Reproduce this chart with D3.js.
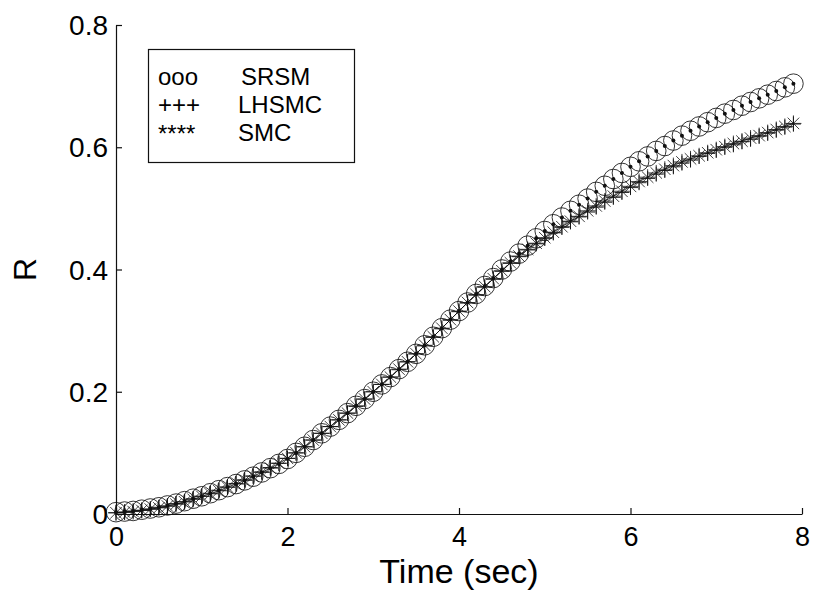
<!DOCTYPE html>
<html>
<head>
<meta charset="utf-8">
<script src="https://cdn.jsdelivr.net/npm/d3@7"></script>
<style>
  html, body { margin: 0; padding: 0; background: #fff; }
  svg { display: block; font-family: "Liberation Sans", Arial, Helvetica, sans-serif; }
</style>
</head>
<body>
<div id="chart"></div>
<script>
// sample times (sec)
const time = [
  0.0, 0.1, 0.2, 0.3, 0.4, 0.5, 0.6, 0.7, 0.8, 0.9,
  1.0, 1.1, 1.2, 1.3, 1.4, 1.5, 1.6, 1.7, 1.8, 1.9,
  2.0, 2.1, 2.2, 2.3, 2.4, 2.5, 2.6, 2.7, 2.8, 2.9,
  3.0, 3.1, 3.2, 3.3, 3.4, 3.5, 3.6, 3.7, 3.8, 3.9,
  4.0, 4.1, 4.2, 4.3, 4.4, 4.5, 4.6, 4.7, 4.8, 4.9,
  5.0, 5.1, 5.2, 5.3, 5.4, 5.5, 5.6, 5.7, 5.8, 5.9,
  6.0, 6.1, 6.2, 6.3, 6.4, 6.5, 6.6, 6.7, 6.8, 6.9,
  7.0, 7.1, 7.2, 7.3, 7.4, 7.5, 7.6, 7.7, 7.8, 7.9
];

const srsm = [
  0.003, 0.004, 0.005, 0.007, 0.009, 0.011, 0.014, 0.017, 0.021, 0.025,
  0.029, 0.034, 0.039, 0.044, 0.049, 0.055, 0.061, 0.068, 0.075, 0.082,
  0.090, 0.100, 0.110, 0.121, 0.132, 0.143, 0.154, 0.165, 0.177, 0.188,
  0.200, 0.212, 0.224, 0.237, 0.249, 0.262, 0.276, 0.290, 0.304, 0.318,
  0.332, 0.346, 0.360, 0.373, 0.386, 0.400, 0.413, 0.426, 0.439, 0.451,
  0.463, 0.474, 0.485, 0.496, 0.506, 0.516, 0.527, 0.537, 0.548, 0.558,
  0.568, 0.577, 0.585, 0.594, 0.602, 0.611, 0.619, 0.627, 0.634, 0.641,
  0.648, 0.655, 0.661, 0.668, 0.674, 0.680, 0.686, 0.692, 0.698, 0.704
];

const lhsmc = [
  0.002, 0.003, 0.005, 0.006, 0.008, 0.011, 0.013, 0.017, 0.020, 0.025,
  0.029, 0.034, 0.039, 0.044, 0.050, 0.056, 0.062, 0.069, 0.076, 0.083,
  0.091, 0.100, 0.110, 0.121, 0.132, 0.143, 0.154, 0.165, 0.176, 0.188,
  0.200, 0.212, 0.224, 0.236, 0.249, 0.262, 0.275, 0.289, 0.303, 0.317,
  0.331, 0.345, 0.358, 0.371, 0.384, 0.397, 0.410, 0.421, 0.432, 0.442,
  0.451, 0.460, 0.469, 0.478, 0.486, 0.494, 0.502, 0.510, 0.518, 0.526,
  0.534, 0.542, 0.549, 0.556, 0.562, 0.568, 0.574, 0.579, 0.585, 0.590,
  0.595, 0.600, 0.604, 0.609, 0.613, 0.618, 0.623, 0.628, 0.633, 0.638
];

const smc = [
  0.002, 0.003, 0.004, 0.006, 0.008, 0.010, 0.013, 0.016, 0.020, 0.024,
  0.029, 0.033, 0.038, 0.044, 0.049, 0.055, 0.062, 0.068, 0.075, 0.083,
  0.091, 0.100, 0.110, 0.121, 0.132, 0.143, 0.154, 0.165, 0.177, 0.188,
  0.200, 0.212, 0.224, 0.237, 0.249, 0.262, 0.276, 0.290, 0.304, 0.318,
  0.332, 0.346, 0.359, 0.372, 0.385, 0.398, 0.411, 0.422, 0.433, 0.443,
  0.452, 0.461, 0.470, 0.479, 0.487, 0.496, 0.504, 0.512, 0.520, 0.528,
  0.536, 0.544, 0.551, 0.558, 0.564, 0.570, 0.576, 0.581, 0.586, 0.591,
  0.596, 0.601, 0.606, 0.610, 0.615, 0.619, 0.624, 0.629, 0.634, 0.639
];

const xTicks = [0, 2, 4, 6, 8];
const yTicks = [0, 0.2, 0.4, 0.6, 0.8];
const legendRows = [
  { sym: "ooo", name: "SRSM" },
  { sym: "+++", name: "LHSMC" },
  { sym: "****", name: "SMC" }
];

const W = 815, H = 605;
const margin = { top: 25, right: 13, bottom: 91, left: 116 };
const w = W - margin.left - margin.right, h = H - margin.top - margin.bottom;
const INK = "#111";

const svg = d3.select("#chart").append("svg")
  .attr("width", W).attr("height", H).attr("viewBox", `0 0 ${W} ${H}`);
const g = svg.append("g").attr("transform", `translate(${margin.left},${margin.top})`);

const x = d3.scaleLinear().domain([0, 8]).range([0, w]);
const y = d3.scaleLinear().domain([0, 0.8]).range([h, 0]);

// axes: ticks point inward, only left + bottom spines
const xAxis = g.append("g").attr("transform", `translate(0,${h})`)
  .call(d3.axisBottom(x).tickValues(xTicks).tickSize(-6).tickSizeOuter(0).tickPadding(13)
    .tickFormat(d3.format("d")));
const yAxis = g.append("g")
  .call(d3.axisLeft(y).tickValues(yTicks).tickSize(-6).tickSizeOuter(0).tickPadding(8)
    .tickFormat(d => d === 0 ? "0" : d.toFixed(1)));
[xAxis, yAxis].forEach(a => {
  a.select(".domain").attr("stroke", INK).attr("stroke-width", 1.2);
  a.selectAll(".tick line").attr("stroke", INK).attr("stroke-width", 1.2);
  a.selectAll("text").attr("fill", "#000").style("font-size", "28px")
    .style("font-family", "\"Liberation Sans\", Arial, sans-serif");
});
xAxis.selectAll("text").style("font-size", "27px");
yAxis.selectAll("text").attr("dy", "0.34em");

svg.append("text")
  .attr("x", margin.left + w / 2).attr("y", 583)
  .attr("text-anchor", "middle").style("font-size", "34px").attr("fill", "#000")
  .text("Time (sec)");
svg.append("text")
  .attr("transform", `translate(36,${margin.top + y(0.4)}) rotate(-90)`)
  .attr("text-anchor", "middle").style("font-size", "32px").attr("fill", "#000")
  .text("R");

const rows = (vals) => time.map((t, i) => ({ t, r: vals[i] }));

// SRSM: open circles with a centre dot
const gS = g.append("g");
gS.selectAll("circle.o").data(rows(srsm)).join("circle").attr("class", "o")
  .attr("cx", d => x(d.t)).attr("cy", d => y(d.r)).attr("r", 9.8)
  .attr("fill", "none").attr("stroke", INK).attr("stroke-width", 0.85);
gS.selectAll("circle.dot").data(rows(srsm)).join("circle").attr("class", "dot")
  .attr("cx", d => x(d.t)).attr("cy", d => y(d.r)).attr("r", 2)
  .attr("fill", INK);

// LHSMC: plus markers
const P = 7.5;
g.append("g").selectAll("path").data(rows(lhsmc)).join("path")
  .attr("d", d => {
    const cx = x(d.t), cy = y(d.r);
    return `M${cx - P},${cy}H${cx + P}M${cx},${cy - P}V${cy + P}`;
  })
  .attr("stroke", INK).attr("stroke-width", 0.9).attr("fill", "none");

// SMC: thin line + star markers
g.append("path").datum(rows(smc))
  .attr("d", d3.line().x(d => x(d.t)).y(d => y(d.r)))
  .attr("fill", "none").attr("stroke", INK).attr("stroke-width", 0.9);
const S = 8, D = S * 0.72;
g.append("g").selectAll("path").data(rows(smc)).join("path")
  .attr("d", d => {
    const cx = x(d.t), cy = y(d.r);
    return `M${cx - S},${cy}H${cx + S}M${cx},${cy - S}V${cy + S}` +
      `M${cx - D},${cy - D}L${cx + D},${cy + D}M${cx - D},${cy + D}L${cx + D},${cy - D}`;
  })
  .attr("stroke", INK).attr("stroke-width", 0.8).attr("fill", "none");

// legend box
const lg = svg.append("g");
lg.append("rect").attr("x", 148.5).attr("y", 49.5).attr("width", 206).attr("height", 113)
  .attr("fill", "#fff").attr("stroke", INK).attr("stroke-width", 1.2);
const lgY = [85, 113, 141];
lg.selectAll("text.sym").data(legendRows).join("text").attr("class", "sym")
  .attr("x", 158).attr("y", (d, i) => lgY[i] + (i === 2 ? 1 : 0))
  .style("font-size", "24px").attr("fill", "#000")
  .text(d => d.sym);
lg.selectAll("text.name").data(legendRows).join("text").attr("class", "name")
  .attr("x", (d, i) => i === 0 ? 241 : 238).attr("y", (d, i) => lgY[i])
  .style("font-size", "24px").attr("fill", "#000")
  .text(d => d.name);
</script>
</body>
</html>
